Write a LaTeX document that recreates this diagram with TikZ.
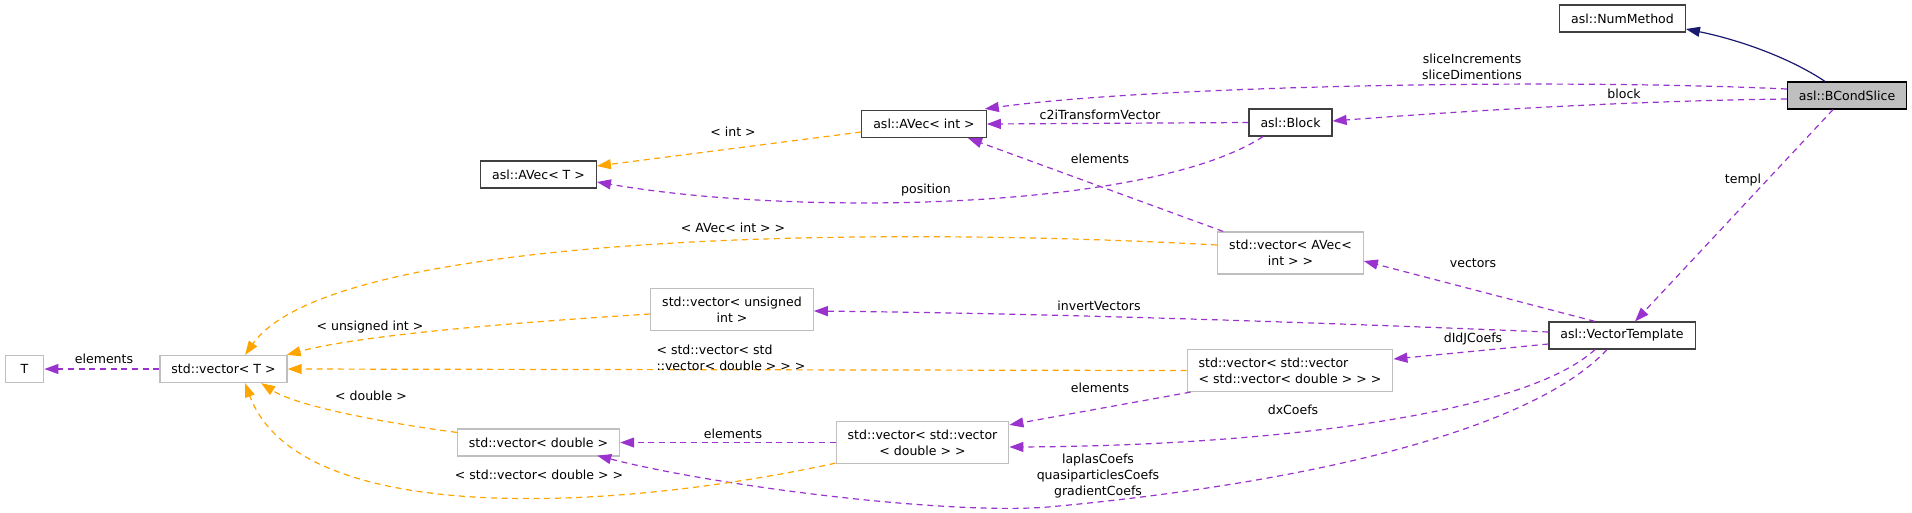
\documentclass[tikz,border=0pt]{standalone}
\usepackage{fontspec}
\setmainfont{DejaVu Sans}
\usetikzlibrary{arrows.meta,calc}
\definecolor{usecol}{HTML}{9A32CD}
\definecolor{tplcol}{HTML}{FFA500}
\definecolor{inhcol}{HTML}{191970}
\definecolor{boxgray}{HTML}{BFBFBF}

\begin{document}
\begin{tikzpicture}[x=0.75pt,y=-0.75pt,
  every node/.style={font=\fontsize{9.4}{11.9}\selectfont},
  box/.style={line width=0.9pt,fill=white,minimum height=20.25pt,minimum width=29pt,inner xsep=8.6pt,inner ysep=2pt,align=center},
  cls/.style={box,draw=black!75},
  ext/.style={box,draw=boxgray},
  tall/.style={minimum height=31.5pt},
  lbl/.style={inner sep=0pt,align=center},
  tip/.style={-{Triangle[length=10.5pt,width=7.5pt]}},
  use/.style={tip,draw=usecol,line width=0.9pt,dash pattern=on 4.5pt off 3.5pt},
  tpl/.style={tip,draw=tplcol,line width=0.9pt,dash pattern=on 4.5pt off 3.5pt},
  inh/.style={tip,draw=inhcol,line width=0.9pt}]
\useasboundingbox (0,0) rectangle (1912,512);
\node[cls] (num) at (1622.5,18.5) {asl::NumMethod};
\node[cls,draw=black,fill=boxgray] (bcs) at (1847,95.5) {asl::BCondSlice};
\node[cls] (avint) at (924,124) {asl::AVec< int >};
\node[cls] (blk) at (1290.5,122.5) {asl::Block};
\node[cls] (avt) at (538.5,174.5) {asl::AVec< T >};
\node[ext,tall] (vavec) at (1290.5,253) {std::vector< AVec<\\int > >};
\node[ext,tall] (vuns) at (732,309.5) {std::vector< unsigned\\int >};
\node[cls] (vt) at (1622,335.5) {asl::VectorTemplate};
\node[ext] (tt) at (24.5,369) {T};
\node[ext] (vec) at (223.5,369) {std::vector< T >};
\node[ext,tall,align=left] (vvv) at (1290,370.5) {std::vector< std::vector\\< std::vector< double > > >};
\node[ext] (vdbl) at (538.5,442.5) {std::vector< double >};
\node[ext,tall] (vvd) at (922.5,442.5) {std::vector< std::vector\\< double > >};
\draw[inh] ($(bcs.north)+(-22,0)$) .. controls (1790,58) and (1740,40) .. ($(num.east)+(0,10.5)$);
\draw[use] ($(bcs.west)+(0,-6.5)$) .. controls (1550,78) and (1150,86) .. ($(avint.north east)+(-2,-1)$);
\draw[use] ($(bcs.west)+(0,3.5)$) .. controls (1620,101) and (1450,112) .. ($(blk.east)+(0,-1.5)$);
\draw[use] (blk.west) -- (avint.east);
\draw[use] ($(blk.south)+(-27.5,0)$) .. controls (1150,210) and (800,217) .. ($(avt.east)+(0,7.5)$);
\draw[tpl] ($(avint.west)+(0,8)$) -- ($(avt.east)+(0,-8.5)$);
\draw[use] ($(vavec.north west)+(6,0)$) -- ($(avint.south)+(44,0)$);
\draw[tpl] ($(vavec.west)+(0,-8)$) .. controls (850,225) and (330,235) .. ($(vec.north)+(21.5,0)$);
\draw[use] ($(vt.north)+(-27,0)$) -- ($(vavec.east)+(0,8)$);
\draw[use] ($(bcs.south)+(-14,0)$) -- ($(vt.north)+(13,0)$);
\draw[use] ($(vt.west)+(0,-3.5)$) .. controls (1400,326) and (1100,314) .. ($(vuns.east)+(0,1.5)$);
\draw[use] ($(vt.west)+(0,8.5)$) -- ($(vvv.east)+(0,-11.5)$);
\draw[tpl] (vvv.west) -- (vec.east);
\draw[use] ($(vvv.south west)+(4,0)$) -- ($(vvd.north east)+(0,4)$);
\draw[use] ($(vt.south)+(-27,0)$) .. controls (1520,418) and (1250,446) .. ($(vvd.east)+(0,4.5)$);
\draw[use] ($(vt.south)+(-15,0)$) .. controls (1530,432) and (1300,484) .. (1048,507)
  .. controls (950,515) and (720,487) .. ($(vdbl.south east)+(-23,-1)$);
\draw[use] (vvd.west) -- (vdbl.east);
\draw[tpl] ($(vvd.south west)+(0,-1)$) .. controls (620,510) and (300,530) .. ($(vec.south)+(21.5,0)$);
\draw[tpl] ($(vdbl.north west)+(0,4)$) .. controls (400,425) and (300,408) .. ($(vec.south)+(37.5,0)$);
\draw[tpl] ($(vuns.west)+(0,4.5)$) .. controls (520,322) and (360,335) .. ($(vec.north east)+(-1,0)$);
\draw[use] (vec.west) -- (tt.east);
\node[lbl] (lslice) at (1472,67) {sliceIncrements\\sliceDimentions};
\node[lbl] (lblock) at (1624,94) {block};
\node[lbl] (lc2i) at (1100,115) {c2iTransformVector};
\node[lbl] (lelemavec) at (1100,159) {elements};
\node[lbl] (lposition) at (926,190) {position};
\node[lbl] (lint) at (733,132) {< int >};
\node[lbl] (lavec) at (733,228) {< AVec< int > >};
\node[lbl] (lvectors) at (1473,263) {vectors};
\node[lbl] (ltempl) at (1743,180) {templ};
\node[lbl] (linvert) at (1099,306) {invertVectors};
\node[lbl] (ldidj) at (1473,339) {dIdJCoefs};
\node[lbl] (lunsigned) at (370,327) {< unsigned int >};
\node[lbl] (lelemt) at (104,359) {elements};
\node[lbl,align=left] (lvvd) at (731,358) {< std::vector< std\\::vector< double > > >};
\node[lbl] (lelemvvv) at (1100,388) {elements};
\node[lbl] (ldx) at (1293,410) {dxCoefs};
\node[lbl] (ldouble) at (371,396) {< double >};
\node[lbl] (lelemvvd) at (733,434) {elements};
\node[lbl] (lcoefs) at (1098,476) {laplasCoefs\\quasiparticlesCoefs\\gradientCoefs};
\node[lbl] (lvdbl) at (539,475) {< std::vector< double > >};
\end{tikzpicture}
\end{document}
